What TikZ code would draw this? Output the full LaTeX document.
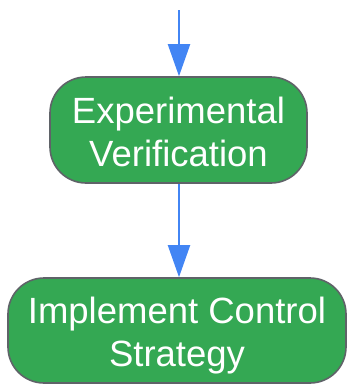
\documentclass[tikz,border=0pt]{standalone}
\usepackage{fontspec}
\setmainfont{Liberation Sans}
\usetikzlibrary{arrows.meta}
\definecolor{boxgreen}{HTML}{34A853}
\definecolor{boxborder}{HTML}{5F6368}
\definecolor{arrowblue}{HTML}{4285F4}
\begin{document}
\begin{tikzpicture}[x=1pt,y=1pt,
  stepbox/.style={draw=boxborder, line width=1.6pt, fill=boxgreen, rounded corners=36pt,
    text=white, align=center, inner sep=0pt,
    font=\fontsize{36.5}{42.7}\selectfont},
  flow/.style={draw=arrowblue, line width=2pt, -{Triangle[length=32pt,width=22pt]}}]
\useasboundingbox (0,0) rectangle (348,-384);
\coordinate (start) at (179,-10);
\node[stepbox, minimum width=257pt, minimum height=106pt, text height=72pt, text depth=0pt] (e1) at (178.5,-130) {Experimental\\Verification};
\node[stepbox, minimum width=338pt, minimum height=105pt, text height=71pt, text depth=0pt] (e2) at (177,-330.5) {Implement Control\\Strategy};
\draw[flow] (start) -- (start |- e1.north);
\draw[flow] (start |- e1.south) -- (start |- e2.north);
\end{tikzpicture}
\end{document}
